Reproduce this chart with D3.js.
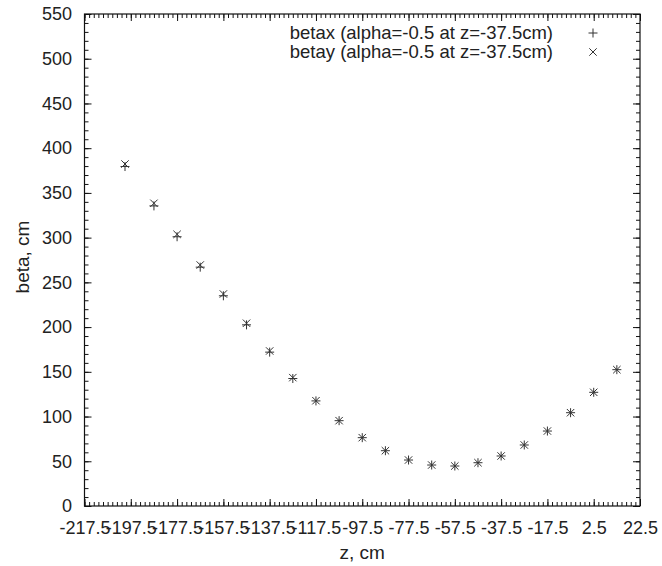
<!DOCTYPE html>
<html><head><meta charset="utf-8">
<script src="https://cdn.jsdelivr.net/npm/d3@7"></script>
<style>
html,body{margin:0;padding:0;background:#fff;}
text{font-family:"Liberation Sans",Arial,Helvetica,sans-serif;fill:#222;}
</style></head>
<body>
<svg id="chart" width="662" height="566"></svg>
<script>
const zValues = [-200, -187.5, -177.5, -167.5, -157.5, -147.5, -137.5, -127.5, -117.5, -107.5, -97.5, -87.5, -77.5, -67.5, -57.5, -47.5, -37.5, -27.5, -17.5, -7.5, 2.5, 12.5];
const betaxValues = [379.5, 335.5, 301, 267, 235, 202.5, 172, 142.5, 117.5, 95.4, 76.4, 61.8, 51.4, 45.8, 44.7, 48.4, 55.9, 68.2, 83.8, 104.3, 127.1, 152.4];
const betayValues = [382.3, 338.4, 303.7, 269.4, 237.0, 204.3, 173.3, 143.5, 117.7, 95.4, 76.4, 61.8, 51.4, 45.8, 44.7, 48.4, 55.9, 68.2, 83.8, 104.3, 127.1, 152.4];
const xTickValues = [-217.5, -197.5, -177.5, -157.5, -137.5, -117.5, -97.5, -77.5, -57.5, -37.5, -17.5, 2.5, 22.5];
const yTickValues = [0, 50, 100, 150, 200, 250, 300, 350, 400, 450, 500, 550];
const seriesLabels = ["betax (alpha=-0.5 at z=-37.5cm)", "betay (alpha=-0.5 at z=-37.5cm)"];

(function(){
const svg = d3.select("#chart");
const pLeft = 84.5, pRight = 640, pTop = 14, pBottom = 506;
const x = d3.scaleLinear().domain([-217.5, 22.5]).range([pLeft, pRight]);
const y = d3.scaleLinear().domain([0, 550]).range([pBottom, pTop]);

const xMinor = d3.range(0, 121).map(i => -217.5 + i * 2);
const yMinor = d3.range(0, 56).map(i => i * 10);
const axisColor = "#111";

function styleAxis(g){
  g.select(".domain").remove();
  g.selectAll("line").attr("stroke", axisColor).attr("stroke-width", 1);
}
// minor ticks
svg.append("g").attr("transform", `translate(0,${pBottom})`)
  .call(d3.axisBottom(x).tickValues(xMinor).tickSize(-4).tickFormat(""))
  .call(styleAxis);
svg.append("g").attr("transform", `translate(0,${pTop})`)
  .call(d3.axisTop(x).tickValues(xMinor).tickSize(-4).tickFormat(""))
  .call(styleAxis);
svg.append("g").attr("transform", `translate(${pLeft},0)`)
  .call(d3.axisLeft(y).tickValues(yMinor).tickSize(-4).tickFormat(""))
  .call(styleAxis);
svg.append("g").attr("transform", `translate(${pRight},0)`)
  .call(d3.axisRight(y).tickValues(yMinor).tickSize(-4).tickFormat(""))
  .call(styleAxis);
// major ticks
const xb = svg.append("g").attr("transform", `translate(0,${pBottom})`)
  .call(d3.axisBottom(x).tickValues(xTickValues).tickSizeInner(-7).tickSizeOuter(0).tickPadding(15).tickFormat(d => String(d)))
  .call(styleAxis);
xb.selectAll("text").attr("font-size", 18).attr("fill", "#222");
svg.append("g").attr("transform", `translate(0,${pTop})`)
  .call(d3.axisTop(x).tickValues(xTickValues).tickSize(-7).tickFormat(""))
  .call(styleAxis);
const yl = svg.append("g").attr("transform", `translate(${pLeft},0)`)
  .call(d3.axisLeft(y).tickValues(yTickValues).tickSizeInner(-7).tickSizeOuter(0).tickPadding(12.5).tickFormat(d => String(d)))
  .call(styleAxis);
yl.selectAll("text").attr("font-size", 18).attr("fill", "#222");
svg.append("g").attr("transform", `translate(${pRight},0)`)
  .call(d3.axisRight(y).tickValues(yTickValues).tickSize(-7).tickFormat(""))
  .call(styleAxis);

// frame
svg.append("rect").attr("x", pLeft).attr("y", pTop).attr("width", pRight - pLeft).attr("height", pBottom - pTop)
  .attr("fill", "none").attr("stroke", axisColor).attr("stroke-width", 1.2);

// axis titles
svg.append("text").attr("x", (pLeft + pRight) / 2).attr("y", 559).attr("text-anchor", "middle")
  .attr("font-size", 19).text("z, cm");
svg.append("text").attr("transform", `translate(29,${(pTop + pBottom) / 2 - 3}) rotate(-90)`)
  .attr("text-anchor", "middle").attr("font-size", 19).text("beta, cm");

const markColor = "#333";
function plus(g, cx, cy, s){
  g.append("path").attr("d", `M${cx - s},${cy}H${cx + s}M${cx},${cy - s}V${cy + s}`)
    .attr("stroke", markColor).attr("stroke-width", 1).attr("fill", "none");
}
function cross(g, cx, cy, s){
  g.append("path").attr("d", `M${cx - s},${cy - s}L${cx + s},${cy + s}M${cx - s},${cy + s}L${cx + s},${cy - s}`)
    .attr("stroke", markColor).attr("stroke-width", 1).attr("fill", "none");
}
const pts = svg.append("g");
zValues.forEach((z, i) => {
  plus(pts, x(z), y(betaxValues[i]), 4.5);
  cross(pts, x(z), y(betayValues[i]), 3.7);
});

// legend
const lg = svg.append("g");
seriesLabels.forEach((t, i) => {
  const ly = 33 + i * 19;
  lg.append("text").attr("x", 553).attr("y", ly).attr("dy", "0.35em").attr("text-anchor", "end")
    .attr("font-size", 18.5).text(t);
  if (i === 0) plus(lg, 593, ly, 4.5); else cross(lg, 593, ly, 3.7);
});
})();
</script>
</body></html>
